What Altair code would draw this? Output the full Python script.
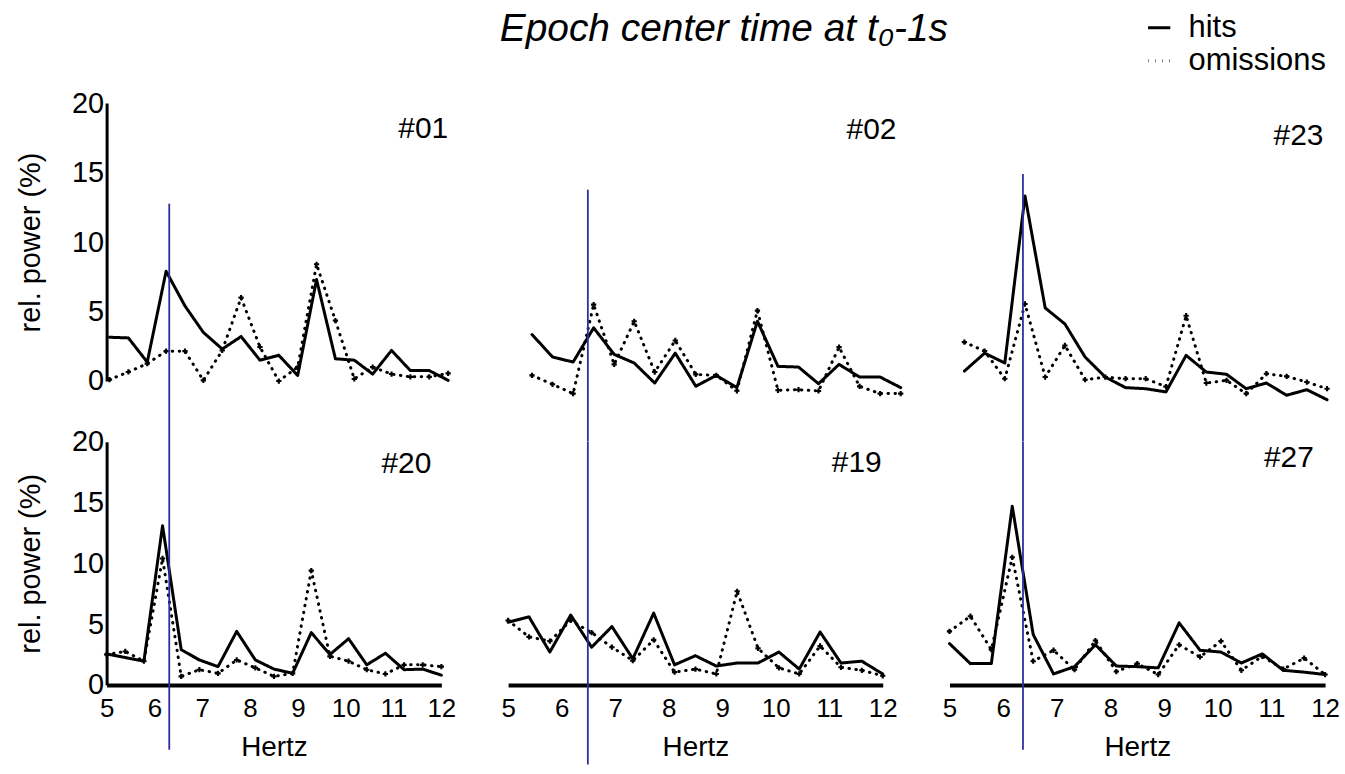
import altair as alt
import pandas as pd

# ---------------- data ----------------
freqs = [5.0, 5.39, 5.78, 6.17, 6.56, 6.94, 7.33, 7.72, 8.11, 8.5,
         8.89, 9.28, 9.67, 10.06, 10.44, 10.83, 11.22, 11.61, 12.0]

hits_01 = [3.15, 3.1, 1.36, 7.9, 5.4, 3.5, 2.3, 3.2, 1.5, 1.85, 0.4, 7.3, 1.6, 1.5, 0.5, 2.2, 0.75, 0.75, 0.05]
om_01 = [0.1, 0.65, 1.25, 2.15, 2.15, 0.05, 2.2, 6.0, 2.45, 0.0, 1.0, 8.4, 4.35, 0.15, 1.0, 0.5, 0.3, 0.3, 0.55]

hits_02 = [4.85, 3.23, 2.87, 5.33, 3.42, 2.8, 1.36, 3.51, 1.13, 1.91, 1.03, 5.81, 2.56, 2.51, 1.31, 2.7, 1.79, 1.79, 1.03]
om_02 = [1.91, 1.27, 0.6, 7.0, 2.7, 5.8, 2.15, 4.42, 1.98, 1.91, 0.8, 6.57, 0.84, 0.88, 0.79, 3.94, 1.12, 0.6, 0.6]

hits_23 = [2.22, 3.51, 2.8, 14.82, 6.76, 5.61, 3.23, 1.79, 1.03, 0.95, 0.72, 3.35, 2.15, 1.99, 0.95, 1.36, 0.48, 0.88, 0.16]
om_23 = [4.3, 3.66, 1.67, 7.05, 1.79, 4.06, 1.6, 1.79, 1.67, 1.67, 1.1, 6.2, 1.36, 1.55, 0.6, 2.03, 1.84, 1.43, 0.95]

hits_20 = [2.55, 2.25, 1.95, 13.1, 2.9, 2.05, 1.5, 4.4, 2.05, 1.3, 0.95, 4.3, 2.5, 3.8, 1.65, 2.6, 1.25, 1.3, 0.8]
om_20 = [2.5, 2.75, 1.95, 10.4, 0.7, 1.25, 0.95, 2.05, 1.4, 0.7, 0.95, 9.4, 2.35, 1.95, 1.25, 0.9, 1.65, 1.65, 1.5]

hits_19 = [5.15, 5.6, 2.7, 5.75, 3.1, 4.8, 2.15, 5.9, 1.65, 2.4, 1.55, 1.8, 1.8, 2.7, 1.3, 4.35, 1.8, 1.95, 0.9]
om_19 = [5.3, 3.95, 3.6, 5.3, 4.3, 3.1, 2.0, 3.7, 1.05, 1.3, 0.9, 7.7, 3.0, 1.4, 0.9, 3.2, 1.45, 1.2, 0.75]

hits_27 = [3.4, 1.75, 1.75, 14.7, 4.15, 0.9, 1.5, 3.3, 1.55, 1.5, 1.4, 5.1, 2.85, 2.7, 1.8, 2.55, 1.2, 1.05, 0.85]
om_27 = [4.4, 5.65, 2.9, 10.5, 1.95, 2.85, 1.25, 3.65, 1.1, 1.75, 0.85, 3.3, 2.3, 3.6, 1.2, 2.35, 1.3, 2.2, 0.85]

subjects = ["#01", "#02", "#23", "#20", "#19", "#27"]
series_names = ["hits", "omissions"]
x_ticks = [5, 6, 7, 8, 9, 10, 11, 12]
y_ticks = [0, 5, 10, 15, 20]

# blue marker line (Hz) and its vertical extent per panel
marker_hz = [6.235, 6.06, 6.13, 6.31, 6.49, 6.37]
marker_top = [12.76, 15.27, 16.4, 20.0, 20.0, 20.0]
marker_bottom = [-4.4, -2.85, -2.85, -5.33, -6.56, -5.33]

# panel label anchor (Hz, value)
label_x = [12.0, 11.92, 11.93, 11.79, 11.98, 11.79]
label_y = [18.1, 19.55, 19.1, 18.15, 18.27, 18.65]

# visible x range of each panel (the scanned panels are not perfectly aligned)
x_dom = [[4.94, 11.86], [4.546, 11.659], [4.712, 11.962], [5, 12], [5, 12], [5, 12]]
y_dom = [[0, 20], [0, 21.5], [0, 21.5], [0, 20], [0, 20], [0, 20]]

FONT = "Liberation Sans"
BLUE = "#2e2ea0"


def panel(i, hits, om, width, height, show_x, show_y, legend=False):
    df = pd.DataFrame({
        "freq": freqs * 2,
        "value": hits + om,
        "series": [series_names[0]] * len(freqs) + [series_names[1]] * len(freqs),
    })
    xaxis = alt.Axis(values=x_ticks, title="Hertz", titleFontSize=28, titleFontWeight="normal",
                     titleFont=FONT, labelFont=FONT, labelFontSize=26, labelPadding=11,
                     ticks=False, domainWidth=4, domainColor="black", grid=False,
                     labelFlush=False, labelOverlap=False, titlePadding=12, format="d",
                     labelColor="black", titleColor="black") if show_x else None
    yaxis = alt.Axis(values=y_ticks, title="rel. power (%)", titleFontSize=29, titleFontWeight="normal",
                     titleFont=FONT, labelFont=FONT, labelFontSize=29, labelPadding=3,
                     ticks=False, domainWidth=3, domainColor="black", grid=False,
                     titlePadding=26, labelColor="black", titleColor="black",
                     labelOverlap=False) if show_y else None
    xenc = alt.X("freq:Q", scale=alt.Scale(domain=x_dom[i], nice=False, zero=False), axis=xaxis)
    yenc = alt.Y("value:Q", scale=alt.Scale(domain=y_dom[i], nice=False, zero=False), axis=yaxis)

    leg = alt.Legend(title=None, orient="none", legendX=1041, legendY=-91, labelFont=FONT,
                     labelFontSize=31, labelColor="black", symbolType="stroke",
                     symbolStrokeWidth=3, symbolStrokeColor="black", symbolSize=500,
                     rowPadding=1, labelOffset=14) if legend else None

    line = alt.Chart(df).mark_line(color="black", strokeWidth=3, strokeCap="round",
                                   strokeJoin="round", clip=False).encode(
        x=xenc, y=yenc,
        strokeDash=alt.StrokeDash("series:N",
                                  scale=alt.Scale(domain=series_names, range=[[1, 0], [0.5, 6.5]]),
                                  legend=leg),
    )
    crosses = alt.Chart(df).transform_filter(alt.datum.series == "omissions").mark_point(
        shape="cross", filled=True, color="black", size=28, opacity=1, clip=False).encode(x=xenc, y=yenc)

    rdf = pd.DataFrame({"freq": [marker_hz[i]], "value": [marker_top[i]], "value2": [marker_bottom[i]]})
    rule = alt.Chart(rdf).mark_rule(color=BLUE, strokeWidth=1.8, clip=False).encode(
        x=xenc, y=yenc, y2="value2:Q")

    ldf = pd.DataFrame({"freq": [label_x[i]], "value": [label_y[i]], "txt": [subjects[i]]})
    label = alt.Chart(ldf).mark_text(align="right", baseline="middle", font=FONT, fontSize=30,
                                     color="black").encode(x=xenc, y=yenc, text="txt:N")

    return alt.layer(line, crosses, rule, label).properties(width=width, height=height)


panels = [
    panel(0, hits_01, om_01, 336, 279, False, True, legend=True),
    panel(1, hits_02, om_02, 376, 300, False, False),
    panel(2, hits_23, om_23, 377, 300, False, False),
    panel(3, hits_20, om_20, 336, 244, True, True),
    panel(4, hits_19, om_19, 376, 244, True, False),
    panel(5, hits_27, om_27, 377, 244, True, False),
]

chart = alt.concat(*panels, columns=3, spacing=alt.RowColnumber(row=40, column=67),
                   bounds="flush").properties(
    title=alt.TitleParams("Epoch center time at t\u2080-1s", font=FONT, fontSize=39,
                          fontStyle="italic", fontWeight="normal", anchor="middle",
                          dx=46, offset=-37, color="black"),
    padding={"left": 16, "top": 9, "right": 5, "bottom": 5},
    background="white",
).configure_view(stroke=None)

chart.save("out.html", embed_options={"renderer": "svg", "actions": False})
